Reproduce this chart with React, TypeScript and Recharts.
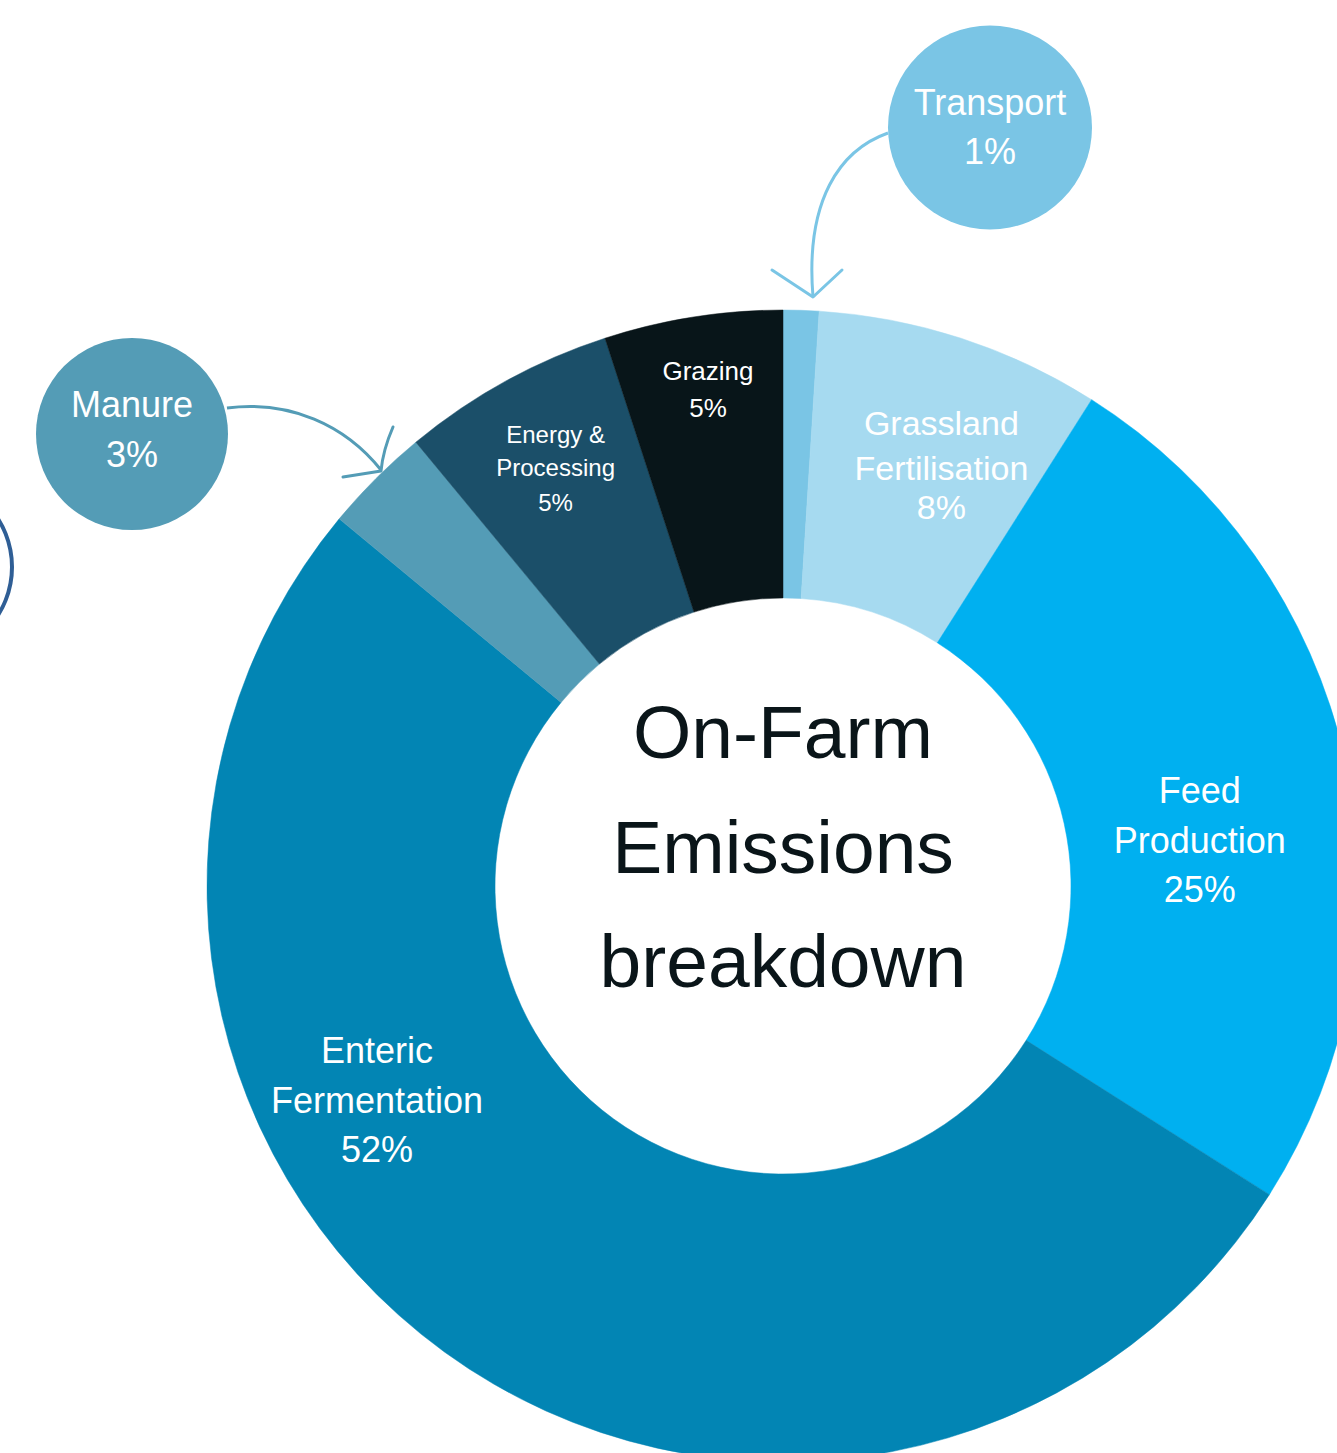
import React from "react";
import { PieChart, Pie, Cell, Customized } from "recharts";

const CATEGORIES = [
  "Transport",
  "Grassland Fertilisation",
  "Feed Production",
  "Enteric Fermentation",
  "Manure",
  "Energy & Processing",
  "Grazing",
];
const SHARE_VALUES = [1, 8, 25, 52, 3, 6, 5];
const SHARE_LABELS = ["1%", "8%", "25%", "52%", "3%", "5%", "5%"];
const LABEL_LINES = [
  ["Transport"],
  ["Grassland", "Fertilisation"],
  ["Feed", "Production"],
  ["Enteric", "Fermentation"],
  ["Manure"],
  ["Energy &", "Processing"],
  ["Grazing"],
];
const COLORS = ["#7AC5E5", "#A6DAF0", "#00B0F0", "#0285B4", "#549CB6", "#1B4F69", "#081519"];
const CENTER_TITLE = ["On-Farm", "Emissions", "breakdown"];

const W = 1337;
const H = 1453;
const CX = 783;
const CY = 886;
const FONT = "'Liberation Sans', Arial, Helvetica, sans-serif";

const data = CATEGORIES.map((name, i) => ({ name, value: SHARE_VALUES[i], pct: SHARE_LABELS[i] }));

// label placement relative to slice mid-angle (clockwise degrees) and radius
const IN_SLICE: Record<number, { shift: number; r: number; fontSize: number; dys: number[] }> = {
  1: { shift: 3.3, r: 436, fontSize: 34, dys: [-45, 0, 39] },
  2: { shift: 8.1, r: 418, fontSize: 36, dys: [-50, 0, 49] },
  3: { shift: 24.8, r: 465, fontSize: 36, dys: [-50, 0, 49] },
  5: { shift: -0.2, r: 469, fontSize: 24, dys: [-33, 0, 35] },
  6: { shift: 0.25, r: 493, fontSize: 26, dys: [-18.5, 18.5] },
};

const BUBBLES: Record<number, any> = {
  0: {
    dx: 207,
    dy: -758.5,
    r: 102,
    fontSize: 36,
    dys: [-12.5, 36.5],
    arrow: [[105, -753], [57, -736], [22, -686], [30, -589]],
    head: "M-11,-616 L30,-589 L59,-616",
  },
  4: {
    dx: -651,
    dy: -452,
    r: 96,
    fontSize: 36,
    dys: [-17, 33],
    arrow: [[-556, -478], [-493, -486], [-438, -461], [-402, -416]],
    head: "M-440,-409 L-402,-415 M-390,-459 Q-400,-436 -402,-415",
  },
};

const renderLabel = (props: any) => {
  const { cx, cy, midAngle, index } = props;
  const lines = [...LABEL_LINES[index], SHARE_LABELS[index]];
  if (IN_SLICE[index]) {
    const L = IN_SLICE[index];
    const theta = ((90 - midAngle + L.shift) * Math.PI) / 180;
    const x = cx + L.r * Math.sin(theta);
    const y = cy - L.r * Math.cos(theta);
    return (
      <g key={`lbl-${index}`}>
        {lines.map((t, k) => (
          <text
            key={k}
            x={x}
            y={y + L.dys[k]}
            textAnchor="middle"
            fill="#FFFFFF"
            fontSize={L.fontSize}
            fontFamily={FONT}
          >
            {t}
          </text>
        ))}
      </g>
    );
  }
  if (BUBBLES[index]) {
    const B = BUBBLES[index];
    const bx = cx + B.dx;
    const by = cy + B.dy;
    const a = B.arrow;
    const d = `M${cx + a[0][0]},${cy + a[0][1]} C${cx + a[1][0]},${cy + a[1][1]} ${cx + a[2][0]},${cy + a[2][1]} ${cx + a[3][0]},${cy + a[3][1]}`;
    return (
      <g key={`lbl-${index}`}>
        <path d={d} fill="none" stroke={COLORS[index]} strokeWidth={3} />
        <path
          d={B.head}
          transform={`translate(${cx},${cy})`}
          fill="none"
          stroke={COLORS[index]}
          strokeWidth={3}
          strokeLinecap="round"
          strokeLinejoin="round"
        />
        <circle cx={bx} cy={by} r={B.r} fill={COLORS[index]} />
        {lines.map((t, k) => (
          <text
            key={k}
            x={bx}
            y={by + B.dys[k]}
            textAnchor="middle"
            fill="#FFFFFF"
            fontSize={B.fontSize}
            fontFamily={FONT}
          >
            {t}
          </text>
        ))}
      </g>
    );
  }
  return null;
};

const CenterTitle = () => (
  <g>
    <circle cx={-78} cy={567} r={90} fill="none" stroke="#2F5E95" strokeWidth={4} />
    {CENTER_TITLE.map((t, k) => (
      <text
        key={k}
        x={CX}
        y={CY + [-128, -13, 101][k]}
        textAnchor="middle"
        fill="#0A1519"
        fontSize={75}
        fontFamily={FONT}
      >
        {t}
      </text>
    ))}
  </g>
);

export default function App() {
  return (
    <div style={{ position: "absolute", left: 0, top: 0, width: W, height: H, background: "#fff", overflow: "hidden" }}>
      <PieChart width={W} height={H} margin={{ top: 0, right: 0, bottom: 0, left: 0 }}>
        <Pie
          data={data}
          dataKey="value"
          nameKey="name"
          cx={CX}
          cy={CY}
          innerRadius={288}
          outerRadius={576}
          startAngle={90}
          endAngle={-270}
          paddingAngle={0}
          isAnimationActive={false}
          labelLine={false}
          label={renderLabel}
        >
          {data.map((d, i) => (
            <Cell key={d.name} fill={COLORS[i]} stroke={COLORS[i]} strokeWidth={0.5} />
          ))}
        </Pie>
        <Customized component={CenterTitle} />
      </PieChart>
    </div>
  );
}
